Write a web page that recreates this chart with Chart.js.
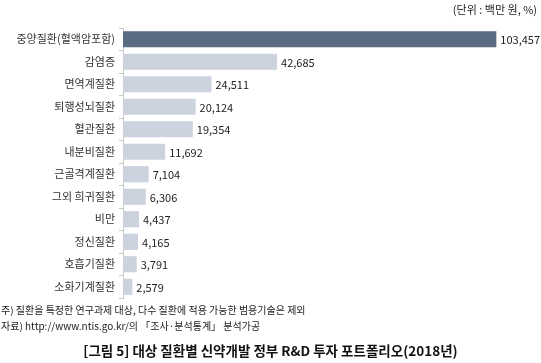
<!DOCTYPE html>
<html><head><meta charset="utf-8">
<script src="https://cdn.jsdelivr.net/npm/chart.js@4/dist/chart.umd.min.js"></script>
<style>
html,body{margin:0;padding:0;background:#fff;}
#wrap{position:relative;width:541px;height:363px;overflow:hidden;font-family:"Noto Sans CJK KR","Noto Sans",sans-serif;}
canvas{position:absolute;left:0;top:0;}
.t{position:absolute;white-space:nowrap;color:#222;}
</style></head>
<body>
<div id="wrap">
<canvas id="c" width="541" height="363"></canvas>
<div class="t" id="unit" style="right:4px;top:1px;font-size:11px;">(단위 : 백만 원, %)</div>
<div class="t" id="n1" style="left:1px;top:302px;font-size:10px;">주) 질환을 특정한 연구과제 대상, 다수 질환에 적용 가능한 범용기술은 제외</div>
<div class="t" id="n2" style="left:1px;top:318px;font-size:10px;">자료) http://www.ntis.go.kr/의 「조사·분석통계」 분석가공</div>
<div class="t" id="cap" style="left:0;width:541px;text-align:center;top:340px;font-size:13.5px;font-weight:bold;color:#111;">[그림 5] 대상 질환별 신약개발 정부 R&amp;D 투자 포트폴리오(2018년)</div>
</div>
<script>
const categories = ["중양질환(혈액암포함)","감염증","면역계질환","퇴행성뇌질환","혈관질환","내분비질환","근골격계질환","그외 희귀질환","비만","정신질환","호흡기질환","소화기계질환"];
const investment = [103457,42685,24511,20124,19354,11692,7104,6306,4437,4165,3791,2579];
const xMax = 115000;

const valueLabels = {
  id:'valueLabels',
  afterDatasetsDraw(chart){
    const ctx = chart.ctx;
    const meta = chart.getDatasetMeta(0);
    ctx.save();
    ctx.font = '11px "Noto Sans CJK KR", "Noto Sans", sans-serif';
    ctx.fillStyle = '#222';
    ctx.textBaseline = 'middle';
    ctx.textAlign = 'left';
    meta.data.forEach((bar,i)=>{
      ctx.fillText(investment[i].toLocaleString('en-US'), bar.x + 4, bar.y + 1);
    });
    ctx.restore();
  }
};

new Chart(document.getElementById('c'), {
  type:'bar',
  data:{
    labels: categories,
    datasets:[{
      data: investment,
      backgroundColor: investment.map((v,i)=> i===0 ? '#5b6b82' : '#ccd3de'),
      borderWidth:0,
      barPercentage:0.72,
      categoryPercentage:1.0
    }]
  },
  options:{
    indexAxis:'y',
    responsive:false,
    animation:false,
    layout:{padding:{top:28,bottom:65,left:0,right:3}},
    plugins:{legend:{display:false},tooltip:{enabled:false}},
    scales:{
      x:{min:0,max:xMax,display:false},
      y:{
        afterFit(scale){ scale.width = 123; },
        grid:{drawOnChartArea:false,color:'#c8c8c8',tickLength:4,offset:true},
        border:{display:true,color:'#c8c8c8'},
        ticks:{font:{size:11,family:'"Noto Sans CJK KR", "Noto Sans", sans-serif'},color:'#333',padding:4}
      }
    }
  },
  plugins:[valueLabels]
});
</script>
</body></html>
